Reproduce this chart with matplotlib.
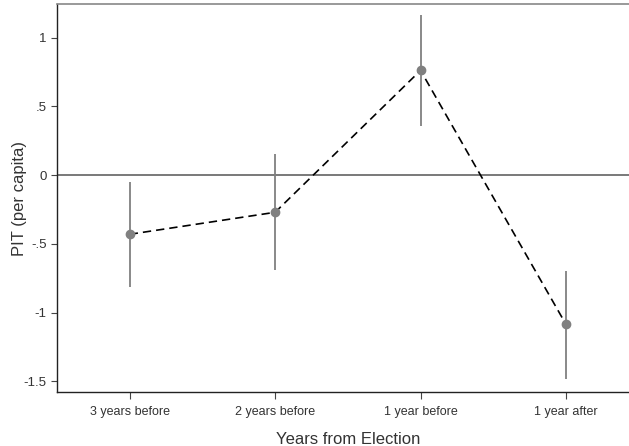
import matplotlib
matplotlib.use("Agg")
import matplotlib.pyplot as plt

plt.rcParams['font.family'] = ['Liberation Sans', 'DejaVu Sans']

categories = ["3 years before", "2 years before", "1 year before", "1 year after"]
estimates = [-0.431, -0.271, 0.761, -1.086]
ci_low = [-0.812, -0.691, 0.356, -1.484]
ci_high = [-0.049, 0.153, 1.164, -0.696]
yticks = [1, 0.5, 0, -0.5, -1, -1.5]
yticklabels = ["1", ".5", "0", "-.5", "-1", "-1.5"]

fig = plt.figure(figsize=(6.29, 4.46), dpi=100)
# axes extends slightly past the right edge of the figure (cropped, as in the reference)
ax = fig.add_axes([0.0906, 0.1211, 0.9248, 0.8699])

x = list(range(1, len(categories) + 1))
ax.axhline(0, color="#555555", lw=1.1, zorder=1)
ax.vlines(x, ci_low, ci_high, color="#808080", lw=1.3, zorder=2)
ax.plot(x, estimates, color="black", lw=1.2, ls=(0, (5, 3)), zorder=3)
ax.plot(x, estimates, "o", color="#808080", ms=6, zorder=4)

ax.set_xlim(0.5, 4.5)
ax.set_ylim(-1.578, 1.244)
ax.set_xticks(x)
ax.set_xticklabels(categories, fontsize=9, color="#333333")
ax.set_yticks(yticks)
ax.set_yticklabels(yticklabels, fontsize=9.5, color="#333333")
ax.tick_params(axis="y", length=4.5, width=0.8, color="#444444", pad=3)
ax.tick_params(axis="x", length=5, width=0.8, color="#444444", pad=5)

ax.spines["right"].set_visible(False)
ax.spines["top"].set_color("#888888")
ax.spines["top"].set_linewidth(1.2)
ax.spines["left"].set_color("#222222")
ax.spines["bottom"].set_color("#222222")
ax.spines["left"].set_linewidth(1.0)
ax.spines["bottom"].set_linewidth(1.0)

ax.set_xlabel("Years from Election", fontsize=12, color="#333333", labelpad=10)
ax.set_ylabel("PIT (per capita)", fontsize=12, color="#333333")
ax.yaxis.set_label_coords(-0.052, 0.5)

fig.savefig("out.png", dpi=100)
